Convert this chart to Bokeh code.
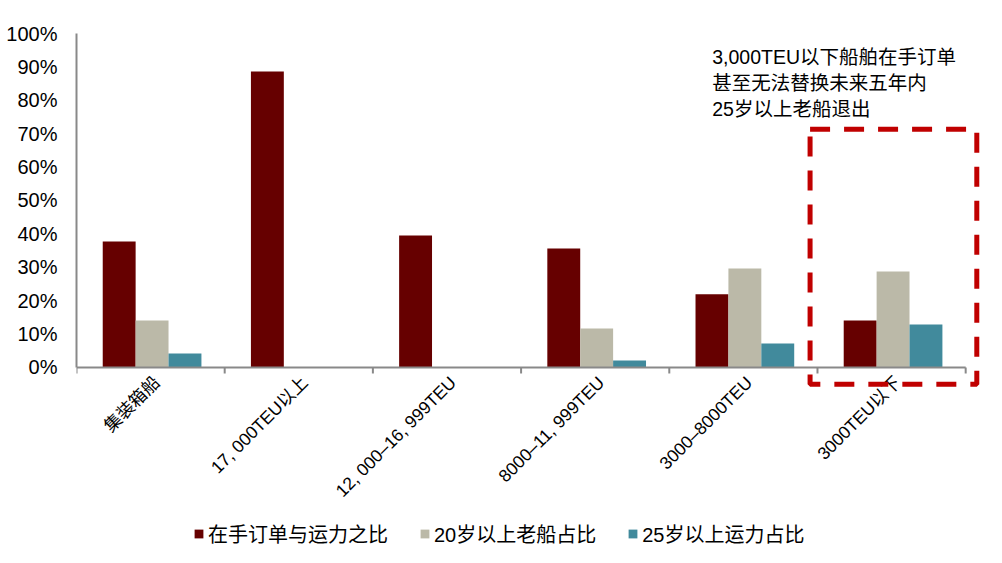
import math
from bokeh.plotting import figure
from bokeh.models import (ColumnDataSource, Range1d, FixedTicker, PrintfTickFormatter,
                          Legend, LegendItem, BoxAnnotation, Label)
from bokeh.core.properties import value
from bokeh.transform import dodge
from bokeh.embed import file_html
from bokeh.resources import INLINE

categories = ["集装箱船", "17, 000TEU以上", "12, 000–16, 999TEU", "8000–11, 999TEU",
              "3000–8000TEU", "3000TEU以下"]
orderbook_ratio = [37.7, 88.6, 39.5, 35.6, 21.9, 14.1]
over20_share = [14.1, float("nan"), float("nan"), 11.7, 29.6, 28.7]
over25_share = [4.2, float("nan"), float("nan"), 2.1, 7.2, 12.9]
series_names = ["在手订单与运力之比", "20岁以上老船占比", "25岁以上运力占比"]
y_ticks = list(range(0, 101, 10))
note_lines = ["3,000TEU以下船舶在手订单", "甚至无法替换未来五年内", "25岁以上老船退出"]

colors = ["#660000", "#BBB9A8", "#418A9C"]
AXIS_GREY = "#898989"
FONT = "Liberation Sans, Arial, Noto Sans CJK SC"
CJK = "Liberation Sans, Noto Sans CJK SC"

n = len(categories)
centers = [i + 0.5 for i in range(n)]
bounds = list(range(n + 1))
src = ColumnDataSource(dict(x=centers, a=orderbook_ratio, b=over20_share, c=over25_share,
                            cat=categories))

p = figure(width=986, height=555, output_backend="svg", toolbar_location=None,
           x_axis_location=None,
           x_range=Range1d(0, n + 0.1), y_range=Range1d(-56.3, 100),
           min_border_left=76, min_border_right=6, min_border_top=33, min_border_bottom=0)
p.outline_line_color = None
p.grid.grid_line_color = None
p.background_fill_color = "white"

w = 0.222
r1 = p.vbar(x=dodge("x", -w + 0.01, range=p.x_range), top="a", width=w, source=src, color=colors[0], line_color=None)
r2 = p.vbar(x=dodge("x", 0.01, range=p.x_range), top="b", width=w, source=src, color=colors[1], line_color=None)
r3 = p.vbar(x=dodge("x", w + 0.01, range=p.x_range), top="c", width=w, source=src, color=colors[2], line_color=None)

# category axis baseline and boundary tick marks
p.segment(x0=[0], y0=[0], x1=[n], y1=[0], line_color=AXIS_GREY, line_width=2)
p.segment(x0=bounds, y0=[0] * len(bounds), x1=bounds, y1=[-1.8] * len(bounds),
          line_color=AXIS_GREY, line_width=2)

# category labels, rotated 45 degrees
p.text(x=dodge("x", 0.04, range=p.x_range), y=-3.6, text="cat", source=src, angle=math.pi / 4,
       text_align="right", text_baseline="middle",
       text_font=value(CJK), text_font_size="17.5px", text_color="black")

# y axis
ya = p.yaxis[0]
ya.ticker = FixedTicker(ticks=y_ticks)
ya.formatter = PrintfTickFormatter(format="%d%%")
ya.bounds = (0, 100)
ya.major_tick_line_color = None
ya.minor_tick_line_color = None
ya.axis_line_color = AXIS_GREY
ya.axis_line_width = 2
ya.major_label_text_font = FONT
ya.major_label_text_font_size = "20px"
ya.major_label_text_color = "black"
ya.major_label_standoff = 13

# dashed highlight box
box = BoxAnnotation(left=4.95, right=6.075, top=71.3, bottom=-5.0,
                    fill_alpha=0, line_color="#C00000", line_alpha=1, line_width=5,
                    line_dash="20 14")
p.add_layout(box)

# note text
for i, t in enumerate(note_lines):
    p.add_layout(Label(x=4.29, y=93.1 - i * 7.8, text=t, text_font=CJK, text_font_size="19.5px",
                       text_color="black", text_baseline="alphabetic"))

legend = Legend(items=[LegendItem(label=series_names[0], renderers=[r1]),
                       LegendItem(label=series_names[1], renderers=[r2]),
                       LegendItem(label=series_names[2], renderers=[r3])],
                orientation="horizontal", location=(117, 7),
                glyph_width=11, glyph_height=11, label_standoff=4, spacing=31,
                label_text_font=CJK, label_text_font_size="20px", label_text_color="black",
                border_line_color=None, background_fill_alpha=0, padding=4, margin=0)
p.add_layout(legend, "center")

open("out.html", "w").write(file_html(p, INLINE))
